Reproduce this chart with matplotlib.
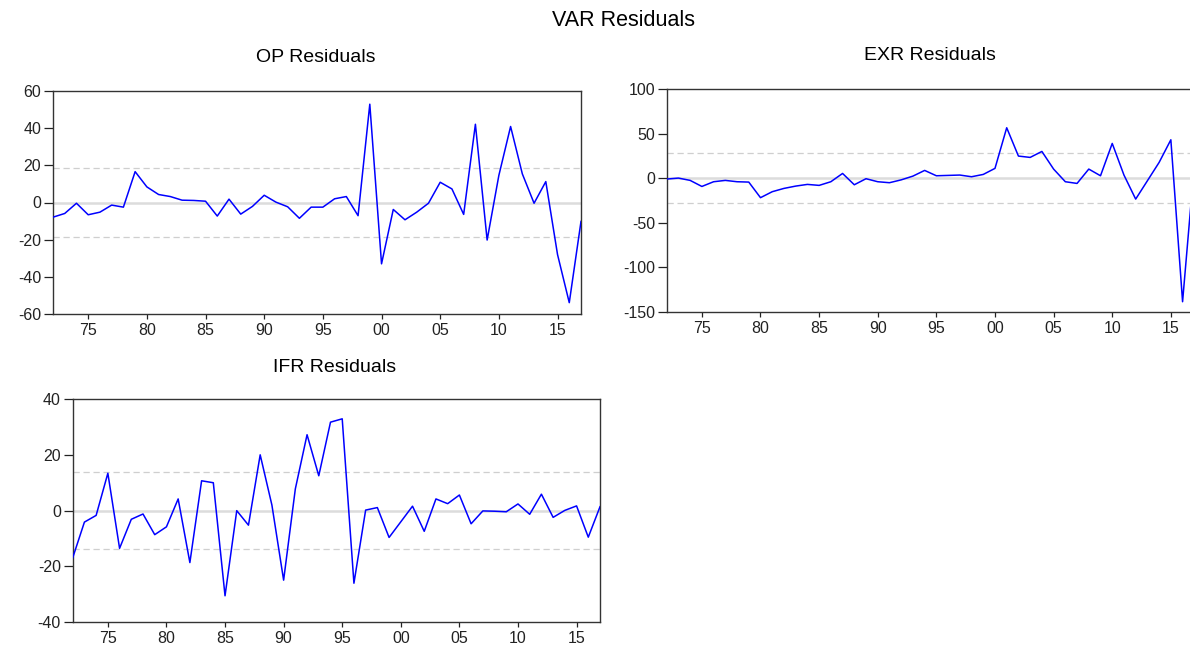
import matplotlib.pyplot as plt

# residuos anuais do VAR, 1972-2017
anos = list(range(1972, 2018))

op_resid = [-7.9, -5.9, -0.4, -6.6, -5.2, -1.4, -2.5, 16.6, 8.4, 4.3,
            3.2, 1.25, 1.1, 0.7, -7.3, 1.8, -6.25, -2.1, 3.9, 0.2,
            -2.3, -8.5, -2.5, -2.5, 2.0, 3.2, -7.1, 52.9, -33.0, -3.75,
            -9.3, -5.2, -0.4, 10.9, 7.3, -6.4, 42.1, -20.2, 14.6, 40.9,
            15.4, -0.4, 11.25, -28.0, -53.9, -10.2]

exr_resid = [-1.1, 0.0, -2.6, -9.4, -4.1, -2.6, -4.1, -4.5, -22.0, -15.3,
             -11.6, -9.0, -7.1, -8.2, -4.1, 5.2, -7.5, -0.7, -4.1, -5.2,
             -2.0, 2.2, 8.6, 2.6, 3.0, 3.4, 1.5, 4.1, 10.9, 56.5,
             24.7, 23.2, 29.9, 10.1, -4.1, -6.0, 10.1, 2.6, 38.9, 3.4,
             -23.6, -3.0, 17.6, 43.0, -138.8, 15.0]

ifr_resid = [-16.9, -4.1, -1.7, 13.4, -13.5, -3.1, -1.2, -8.6, -5.8, 4.2,
             -18.6, 10.7, 10.0, -30.5, 0.0, -5.2, 20.0, 2.0, -24.9, 7.8,
             27.2, 12.5, 31.7, 32.9, -26.0, 0.2, 1.1, -9.6, -4.0, 1.6,
             -7.4, 4.2, 2.5, 5.6, -4.7, -0.1, -0.2, -0.4, 2.4, -1.3,
             5.9, -2.4, 0.1, 1.7, -9.5, 1.4]

# faixa de +/- 2 desvios padrao
op_banda = 18.4
exr_banda = 28.0
ifr_banda = 13.8

op_yticks = [-60, -40, -20, 0, 20, 40, 60]
exr_yticks = [-150, -100, -50, 0, 50, 100]
ifr_yticks = [-40, -20, 0, 20, 40]

xticks = list(range(1975, 2016, 5))
xlabels = [f'{a % 100:02d}' for a in xticks]

plt.rcParams['font.family'] = ['Liberation Sans', 'DejaVu Sans']

W, H = 1190, 645
fig = plt.figure(figsize=(W / 100, H / 100), dpi=100)


def eixo(esq, topo, dir_, base):
    return fig.add_axes([esq / W, 1 - base / H, (dir_ - esq) / W, (base - topo) / H])


def painel(ax, valores, banda, yticks, titulo, tx, ty):
    ax.axhline(0, color='#dcdcdc', lw=1.8, zorder=1)
    ax.axhline(banda, color='#cfcfcf', lw=0.9, ls=(0, (5, 3)), zorder=1)
    ax.axhline(-banda, color='#cfcfcf', lw=0.9, ls=(0, (5, 3)), zorder=1)
    ax.plot(anos, valores, color='#0000ff', lw=1.1, zorder=3)
    ax.set_xlim(1972, 2017)
    ax.set_ylim(yticks[0], yticks[-1])
    ax.set_yticks(yticks)
    ax.set_yticklabels([str(v) for v in yticks])
    ax.set_xticks(xticks)
    ax.set_xticklabels(xlabels)
    ax.tick_params(direction='out', width=0.9, labelsize=11.5, colors='#222222')
    ax.tick_params(axis='y', length=6.5, pad=2)
    ax.tick_params(axis='x', length=3.5, pad=3)
    for s in ax.spines.values():
        s.set_color('#333333')
        s.set_linewidth(1.0)
    fig.text(tx / W, 1 - ty / H, titulo, ha='center', va='center', fontsize=14)


ax_op = eixo(53, 91, 581, 314)
painel(ax_op, op_resid, op_banda, op_yticks, 'OP Residuals', 316, 58)

ax_exr = eixo(666.7, 89, 1194.3, 311.7)
painel(ax_exr, exr_resid, exr_banda, exr_yticks, 'EXR Residuals', 930, 55)

ax_ifr = eixo(72.7, 399, 600, 622.3)
painel(ax_ifr, ifr_resid, ifr_banda, ifr_yticks, 'IFR Residuals', 335, 367)

fig.text(624 / W, 1 - 20 / H, 'VAR Residuals', ha='center', va='center', fontsize=15.5)

plt.savefig('out.png', dpi=100)
